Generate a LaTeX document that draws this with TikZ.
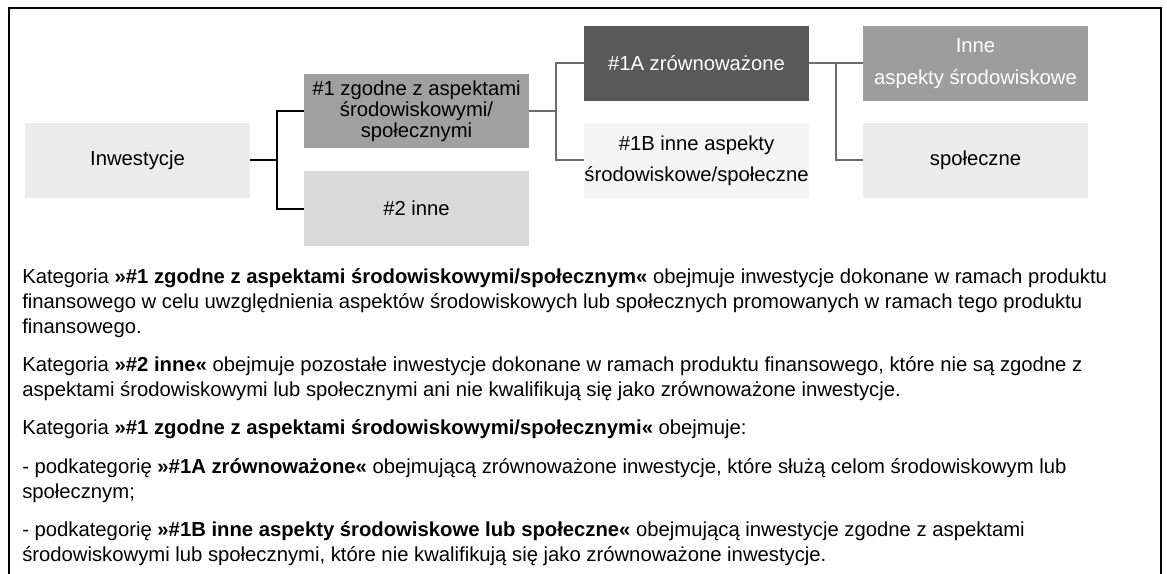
\documentclass[tikz,border=0pt]{standalone}
\usepackage{fontspec}
\setmainfont{Liberation Sans}
\definecolor{greyA}{HTML}{ECECEC}
\definecolor{greyB}{HTML}{A0A0A0}
\definecolor{greyC}{HTML}{D9D9D9}
\definecolor{greyD}{HTML}{595959}
\definecolor{greyE}{HTML}{F5F5F5}
\definecolor{greyF}{HTML}{9D9D9D}
\definecolor{linkgrey}{HTML}{6B6B6B}

\begin{document}
\begin{tikzpicture}[x=0.75pt,y=-0.75pt,
                    box/.style = {minimum width=168.75pt, minimum height=56.25pt, inner sep=0pt,
                                  align=center, font=\fontsize{15.2}{15.75}\selectfont},
                    loose/.style = {font=\fontsize{15.2}{23.5}\selectfont},
                    trunk/.style = {line width=1.5pt, black},
                    branch/.style = {line width=1.5pt, linkgrey},
                    para/.style = {anchor=north west, inner sep=0pt, align=left,
                                   font=\fontsize{15.2}{18.75}\selectfont}]
                        \useasboundingbox (0,0) rectangle (1167,574);
                        \draw[line width=1.2pt] (9,574) -- (9,8) -- (1161,8) -- (1161,574);

                        \node[box, fill=greyA] (inw) at (137.5,160.5) {Inwestycje};
                        \node[box, fill=greyB, minimum height=55.5pt] (grp1) at (416.5,111) {\#1 zgodne z aspektami\\środowiskowymi/\\społecznymi};
                        \node[box, fill=greyC] (grp2) at (416.5,208.5) {\#2 inne};
                        \node[box, fill=greyD, text=white] (sust) at (696.5,63.5) {\#1A zrównoważone};
                        \node[box, loose, fill=greyE] (other) at (696.5,160.5) {\#1B inne aspekty\\środowiskowe/społeczne};
                        \node[box, loose, fill=greyF, text=white] (env) at (975.5,63.5) {Inne\\aspekty środowiskowe};
                        \node[box, fill=greyA] (soc) at (975.5,160.5) {społeczne};

                        \draw[trunk] (inw.east) -- ++(27,0) |- (grp1.west);
                        \draw[trunk] (inw.east) -- ++(27,0) |- (grp2.west);
                        \draw[branch] (grp1.east) -- ++(27,0) |- (sust.west);
                        \draw[branch] (grp1.east) -- ++(27,0) |- (other.west);
                        \draw[branch] (sust.east) -- (env.west);
                        \draw[branch] (sust.east) -- ++(27,0) |- (soc.west);

                        \node[para] (p1) at (22,265.5) {\strut Kategoria \textbf{»\#1 zgodne z aspektami środowiskowymi/społecznym«} obejmuje inwestycje dokonane w ramach produktu\\finansowego w celu uwzględnienia aspektów środowiskowych lub społecznych promowanych w ramach tego produktu\\finansowego.};
                        \node[para] (p2) at (22,353.75) {\strut Kategoria \textbf{»\#2 inne«} obejmuje pozostałe inwestycje dokonane w ramach produktu finansowego, które nie są zgodne z\\aspektami środowiskowymi lub społecznymi ani nie kwalifikują się jako zrównoważone inwestycje.};
                        \node[para] (p3) at (22,417) {\strut Kategoria \textbf{»\#1 zgodne z aspektami środowiskowymi/społecznymi«} obejmuje:};
                        \node[para] (p4) at (22,455.25) {\strut - podkategorię \textbf{»\#1A zrównoważone«} obejmującą zrównoważone inwestycje, które służą celom środowiskowym lub\\społecznym;};
                        \node[para] (p5) at (22,518.5) {\strut - podkategorię \textbf{»\#1B inne aspekty środowiskowe lub społeczne«} obejmującą inwestycje zgodne z aspektami\\środowiskowymi lub społecznymi, które nie kwalifikują się jako zrównoważone inwestycje.};
                    \end{tikzpicture}
\end{document}
